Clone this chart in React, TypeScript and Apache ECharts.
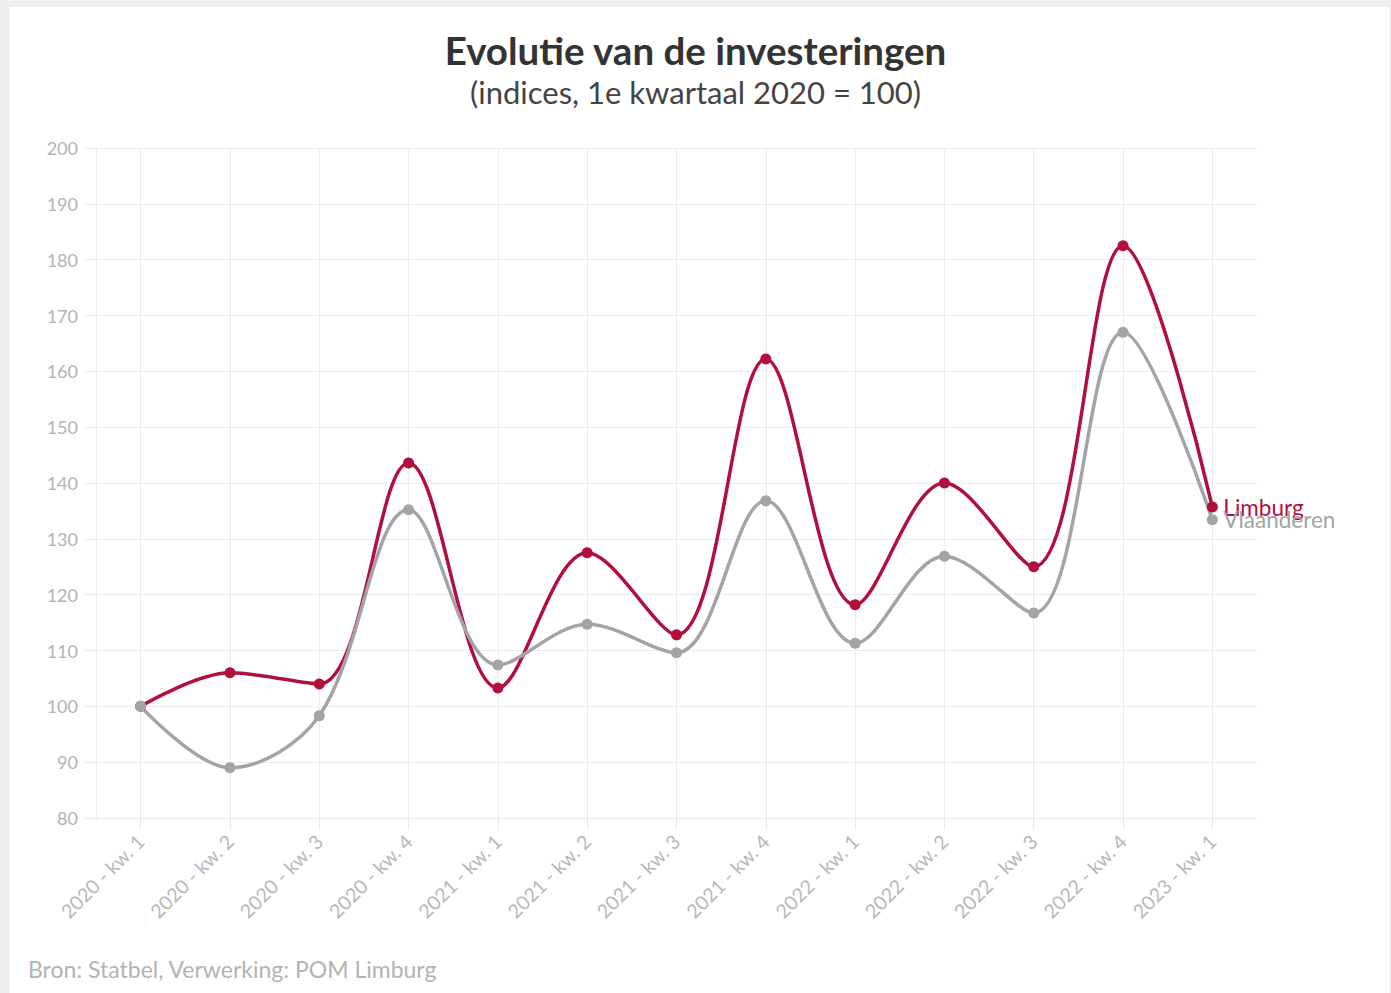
import React, { useEffect, useRef } from "react";
import * as echarts from "echarts";

const categories = [
  "2020 - kw. 1", "2020 - kw. 2", "2020 - kw. 3", "2020 - kw. 4",
  "2021 - kw. 1", "2021 - kw. 2", "2021 - kw. 3", "2021 - kw. 4",
  "2022 - kw. 1", "2022 - kw. 2", "2022 - kw. 3", "2022 - kw. 4",
  "2023 - kw. 1",
];
const limburg = [100, 106, 104, 143.6, 103.3, 127.5, 112.8, 162.2, 118.2, 140, 125, 182.5, 135.7];
const vlaanderen = [100, 89, 98.3, 135.2, 107.4, 114.7, 109.6, 136.8, 111.3, 126.9, 116.7, 167, 133.4];
const yMin = 80;
const yMax = 200;
const yStep = 10;

const FONT = "Lato";

export default function App() {
  const ref = useRef<HTMLDivElement>(null);
  useEffect(() => {
    document.body.style.margin = "0";
    const chart = echarts.init(ref.current!, null, { renderer: "svg" });
    const seriesStyle = (name: string, data: number[], color: string) => ({
      name,
      type: "line",
      data,
      smooth: 0.35,
      symbol: "circle",
      symbolSize: 11,
      showAllSymbol: true,
      lineStyle: { color, width: 3.5 },
      itemStyle: { color },
      endLabel: {
        show: true,
        formatter: "{a}",
        color,
        fontFamily: FONT,
        fontSize: 22.5,
        distance: 11,
      },
    });
    chart.setOption({
      animation: false,
      backgroundColor: "#efefef",
      graphic: [
        { type: "rect", z: -10, shape: { x: 10, y: 7, width: 1379, height: 990 }, style: { fill: "#ffffff" } },
      ],
      title: {
        text: "Evolutie van de investeringen",
        subtext: "(indices, 1e kwartaal 2020 = 100)",
        left: "center",
        top: 25,
        itemGap: 7,
        textStyle: { fontFamily: FONT, fontSize: 38.5, fontWeight: "bold", color: "#333333" },
        subtextStyle: { fontFamily: FONT, fontSize: 31, color: "#444444" },
      },
      grid: { left: 96, right: 134, top: 148, bottom: 175, containLabel: false },
      xAxis: {
        type: "category",
        data: categories,
        boundaryGap: true,
        axisLine: { show: false },
        axisTick: { show: true, alignWithLabel: true, length: 12, lineStyle: { color: "#e8e8e8" } },
        splitLine: { show: true, alignWithLabel: true, lineStyle: { color: "#ececec", width: 1 } },
        axisLabel: {
          rotate: 45,
          interval: 0,
          margin: 20,
          color: "#b8b8b8",
          fontFamily: FONT,
          fontSize: 19.5,
        },
      },
      yAxis: {
        type: "value",
        min: yMin,
        max: yMax,
        interval: yStep,
        axisLine: { show: true, lineStyle: { color: "#ececec" } },
        axisTick: { show: true, length: 12, lineStyle: { color: "#ececec" } },
        splitLine: { show: true, lineStyle: { color: "#ececec" } },
        axisLabel: { color: "#b3b3b3", fontFamily: FONT, fontSize: 18, margin: 18 },
      },
      series: [
        seriesStyle("Limburg", limburg, "#b2103c"),
        seriesStyle("Vlaanderen", vlaanderen, "#a4a4a4"),
      ],
    });
    return () => chart.dispose();
  }, []);
  return (
    <div style={{ position: "relative", width: 1391, height: 993 }}>
      <div ref={ref} style={{ width: 1391, height: 993 }} />
      <div
        style={{
          position: "absolute",
          left: 28,
          top: 955,
          fontFamily: FONT,
          fontSize: 23,
          color: "#b3b3b3",
          whiteSpace: "nowrap",
        }}
      >
        Bron: Statbel, Verwerking: POM Limburg
      </div>
    </div>
  );
}
